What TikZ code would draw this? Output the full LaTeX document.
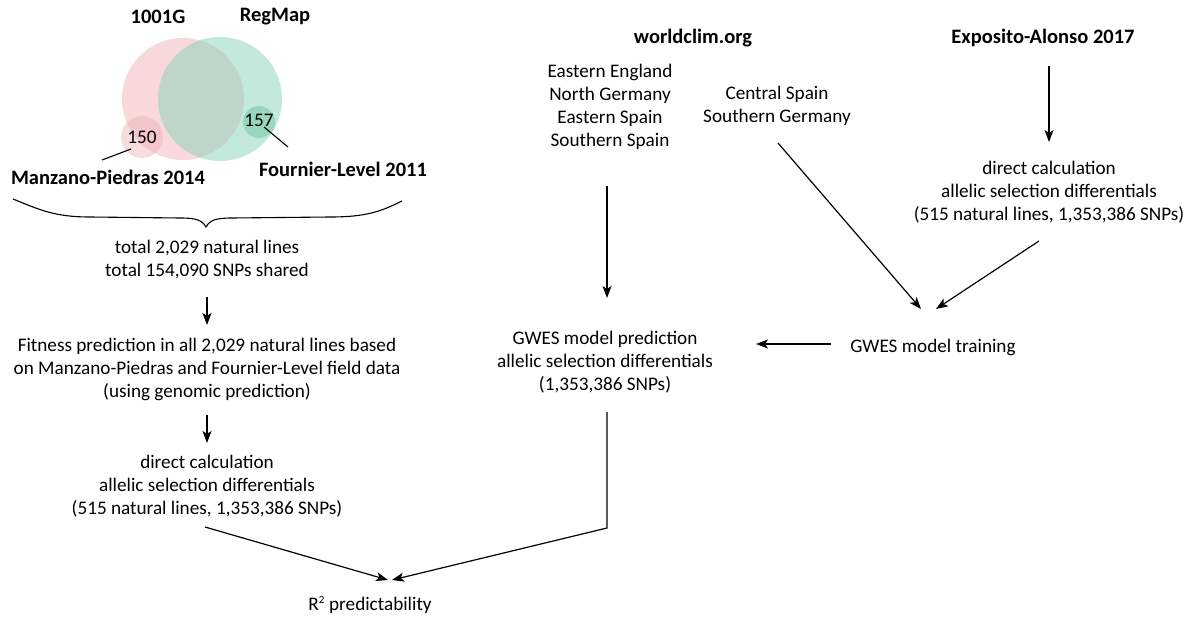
\documentclass[tikz,border=0pt]{standalone}
\usepackage{fontspec}
\setmainfont{Carlito}
\usetikzlibrary{arrows.meta,calc}
\definecolor{pinkc}{RGB}{248,216,218}
\definecolor{greenc}{RGB}{130,210,180}
\definecolor{pinkd}{RGB}{238,178,184}
\definecolor{greend}{RGB}{90,185,150}
\begin{document}
\begin{tikzpicture}[x=1pt,y=-1pt,
  txt/.style={font=\fontsize{19.2}{23}\selectfont, align=center, inner sep=0pt},
  ttl/.style={font=\fontsize{20.5}{24}\selectfont\bfseries, inner sep=0pt},
  arr/.style={-{Stealth[length=12pt,width=9pt,inset=3pt]}, line width=1.2pt},
  ln/.style={line width=1.1pt},
  venn/.style={circle, inner sep=0pt}]
\useasboundingbox (0,0) rectangle (1193,620);
% Venn
\node[ttl] (g1001) at (158,17) {1001G};
\node[ttl] (regmap) at (275,17) {RegMap};
\node[venn, minimum size=122pt, fill=pinkc] (pinkbig) at (183,99) {};
\node[venn, minimum size=124pt, fill=greenc, fill opacity=0.48] (greenbig) at (220,99) {};
\node[venn, minimum size=42pt, fill=pinkd, fill opacity=0.45] (mp) at (142,137) {};
\node[venn, minimum size=32pt, fill=greend, fill opacity=0.4] (fl) at (259,122) {};
\node[txt] (n150) at (142,137) {150};
\node[txt] (n157) at (259,120) {157};
\node[ttl] (manz) at (108,177) {Manzano-Piedras 2014};
\node[ttl] (fourn) at (343,169) {Fournier-Level 2011};
\coordinate (mpa) at (131,149);
\coordinate (mpb) at (102,160);
\coordinate (fla) at (264,127);
\coordinate (flb) at (288,147);
\draw[ln] (mpa) -- (mpb);
\draw[ln] (fla) -- (flb);
% brace
\coordinate (brl) at (13,199);
\coordinate (brt) at (206,227);
\coordinate (brr) at (402,201);
\draw[ln] (brl) .. controls (40,210) and (55,217) .. (90,217)
  -- (180,218) .. controls (196,218) and (202,220) .. (brt)
  .. controls (210,220) and (216,218) .. (232,218)
  -- (330,217) .. controls (365,217) and (380,212) .. (brr);
% left column
\node[txt] (total) at (207,260) {total 2,029 natural lines\\total 154,090 SNPs shared};
\node[txt] (fitness) at (207,369) {Fitness prediction in all 2,029 natural lines based\\on Manzano-Piedras and Fournier-Level field data\\(using genomic prediction)};
\node[txt] (directl) at (207,486) {direct calculation\\allelic selection differentials\\(515 natural lines, 1,353,386 SNPs)};
\node[txt] (r2) at (370,605) {R\textsuperscript{\fontsize{11}{11}\selectfont 2} predictability};
\coordinate (tots) at (207,297);
\coordinate (fitn) at (207,325);
\coordinate (fits) at (207,415);
\coordinate (dirn) at (207,443);
\draw[arr] (tots) -- (fitn);
\draw[arr] (fits) -- (dirn);
\coordinate (dl) at (205,527);
\coordinate (r2l) at (388,580);
\coordinate (r2r) at (392,580);
\draw[arr] (dl) -- (r2l);
% middle column
\node[ttl] (wc) at (693,38) {worldclim.org};
\node[txt] (regions1) at (610,107) {Eastern England\\North Germany\\Eastern Spain\\Southern Spain};
\node[txt] (regions2) at (777,106) {Central Spain\\Southern Germany};
\node[txt] (pred) at (605,362) {GWES model prediction\\allelic selection differentials\\(1,353,386 SNPs)};
\coordinate (r1s) at (607,186);
\coordinate (predn) at (607,298);
\coordinate (preds) at (607,412);
\coordinate (predb) at (607,528);
\draw[arr] (r1s) -- (predn);
\draw[arr] (preds) -- (predb) -- (r2r);
% right column
\node[ttl] (expo) at (1043,38) {Exposito-Alonso 2017};
\node[txt] (directr) at (1049,192) {direct calculation\\allelic selection differentials\\(515 natural lines, 1,353,386 SNPs)};
\node[txt] (train) at (933,347) {GWES model training};
\coordinate (expos) at (1049,66);
\coordinate (dirrn) at (1049,142);
\draw[arr] (expos) -- (dirrn);
\coordinate (r2s) at (778,143);
\coordinate (trl) at (921,309);
\coordinate (dr) at (1039,241);
\coordinate (trr) at (936,309);
\draw[arr] (r2s) -- (trl);
\draw[arr] (dr) -- (trr);
\coordinate (trw) at (831,344);
\coordinate (prede) at (756,344);
\draw[arr] (trw) -- (prede);
\end{tikzpicture}
\end{document}
